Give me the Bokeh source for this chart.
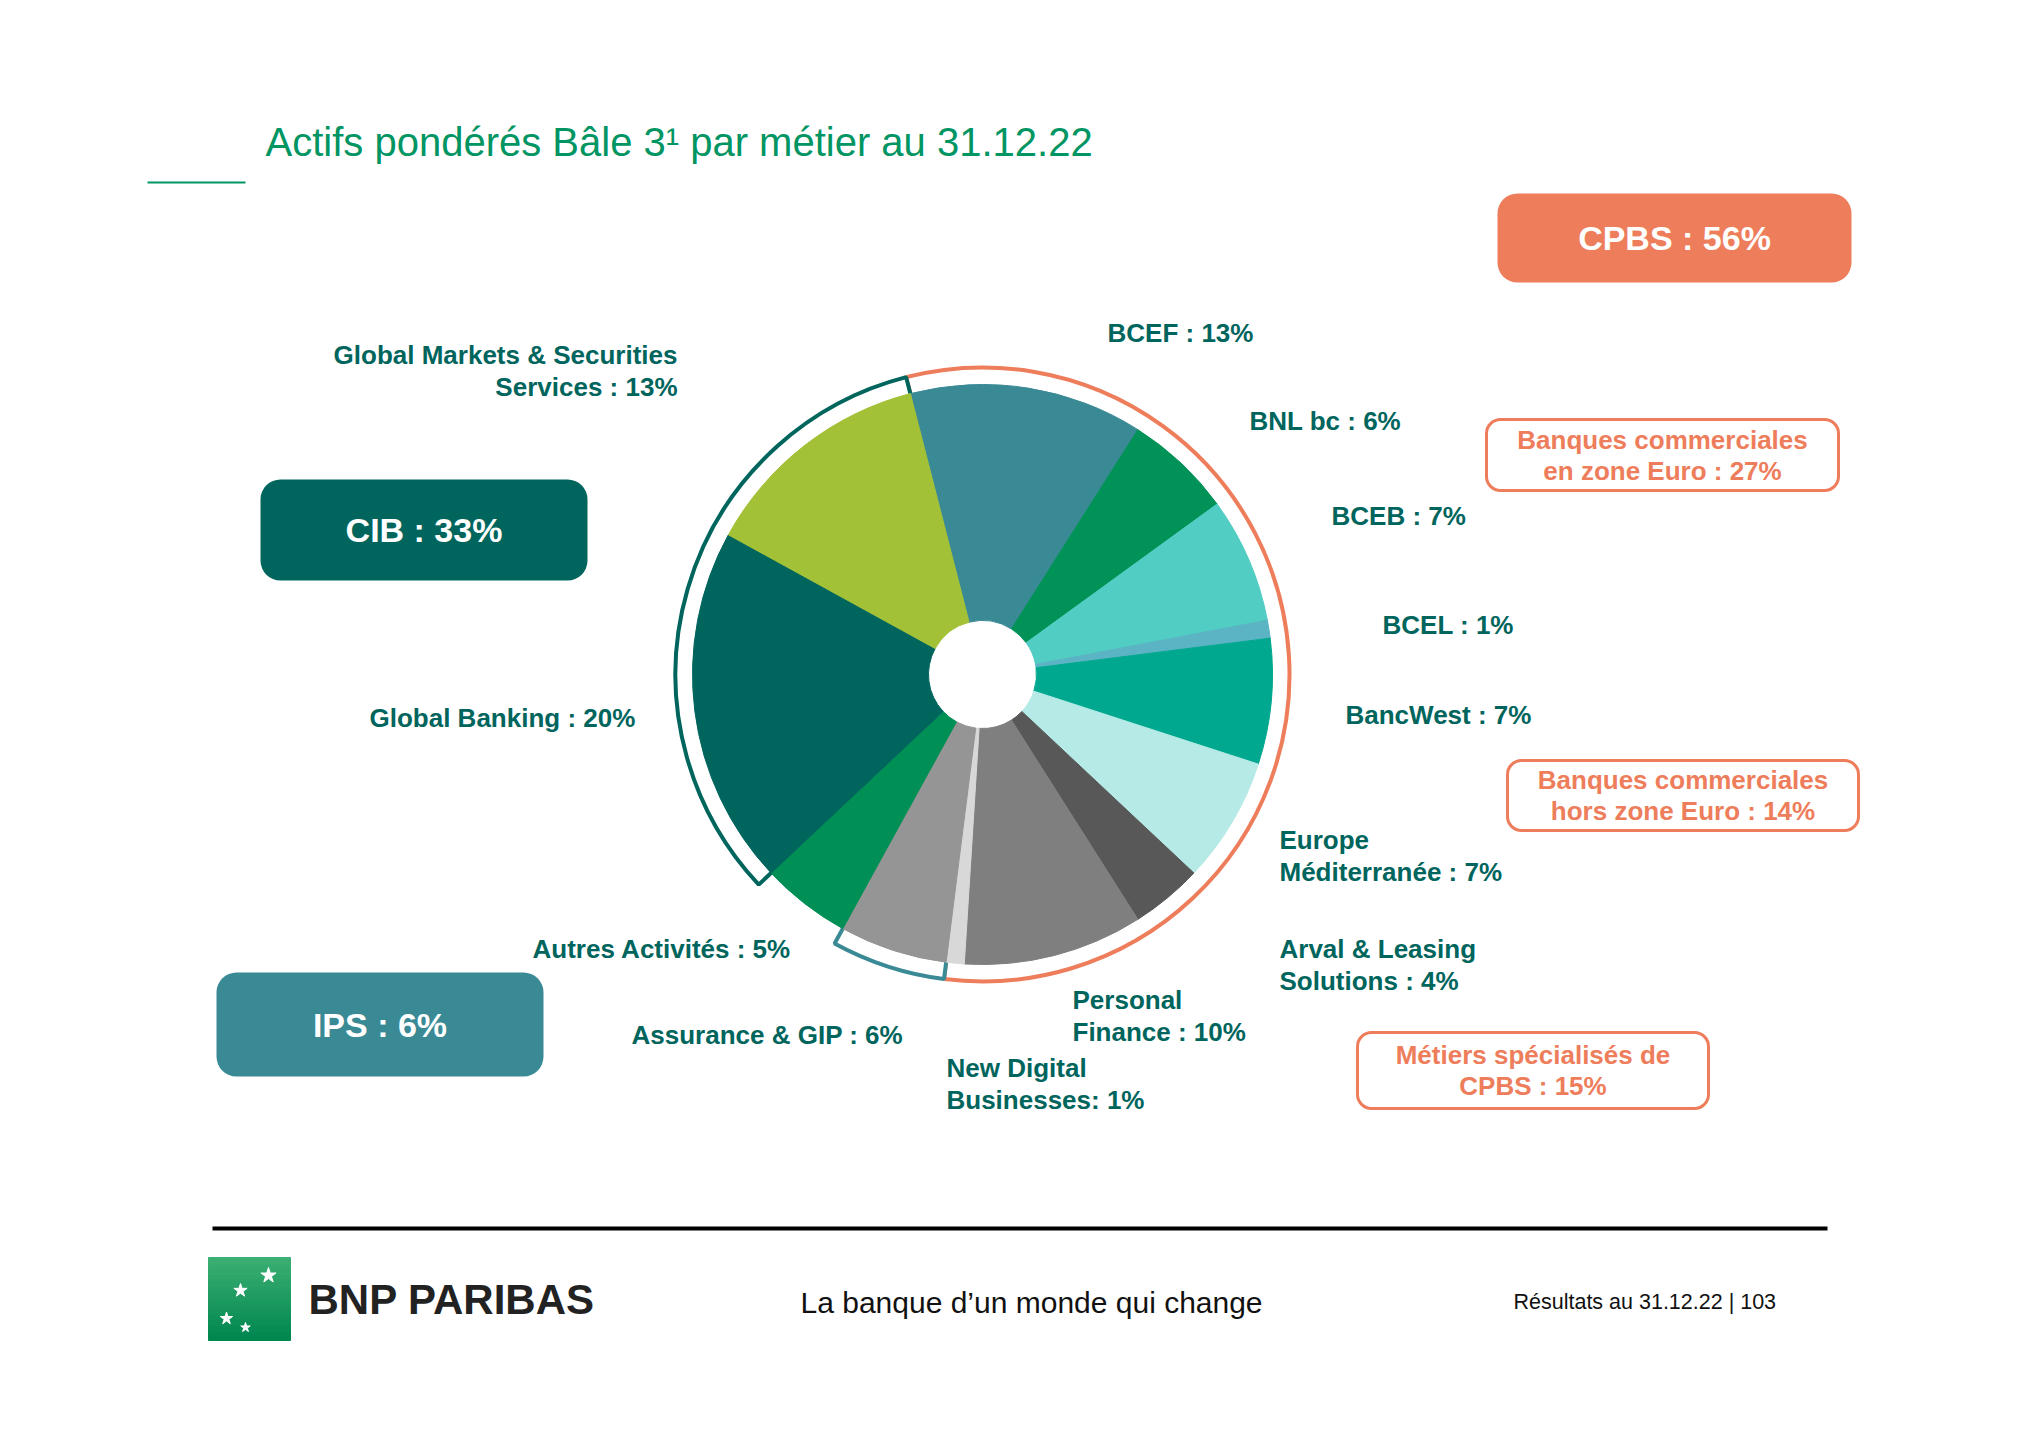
import numpy as np
from bokeh.plotting import figure
from bokeh.models import Range1d, ColumnDataSource, BoxAnnotation
from bokeh.core.properties import value
from bokeh.embed import file_html
from bokeh.resources import INLINE

# ---------------- data ----------------
segments = ["BCEF", "BNL bc", "BCEB", "BCEL", "BancWest", "Europe Méditerranée",
            "Arval & Leasing Solutions", "Personal Finance", "New Digital Businesses",
            "Assurance & GIP", "Autres Activités", "Global Banking",
            "Global Markets & Securities Services"]
shares = [13, 6, 7, 1, 7, 7, 4, 10, 1, 6, 5, 20, 13]
colors = ["#3A8A96", "#009257", "#52CDC3", "#5AB4C4", "#00A88F", "#B5EAE6",
          "#585858", "#7F7F7F", "#D8D8D8", "#959595", "#008F55", "#00655D", "#A3C137"]
label_lines = [["BCEF : 13%"], ["BNL bc : 6%"], ["BCEB : 7%"], ["BCEL : 1%"],
               ["BancWest : 7%"], ["Europe", "Méditerranée : 7%"],
               ["Arval & Leasing", "Solutions : 4%"], ["Personal", "Finance : 10%"],
               ["New Digital", "Businesses: 1%"], ["Assurance & GIP : 6%"],
               ["Autres Activités : 5%"], ["Global Banking : 20%"],
               ["Global Markets & Securities", "Services : 13%"]]

groups = ["CPBS", "IPS", "CIB"]
group_values = [56, 6, 33]
group_first = [0, 9, 11]
group_last = [8, 9, 12]
group_colors = ["#EE7D5B", "#3A8A96", "#00655D"]

sub_groups = ["Banques commerciales|en zone Euro : 27%",
              "Banques commerciales|hors zone Euro : 14%",
              "Métiers spécialisés de|CPBS : 15%"]

title = "Actifs pondérés Bâle 3¹ par métier au 31.12.22"

# ---------------- page ----------------
W, H = 2040, 1442
def Y(y):
    return H - y

p = figure(width=W, height=H, x_range=Range1d(0, W), y_range=Range1d(0, H),
           output_backend="svg", toolbar_location=None, x_axis_type=None,
           y_axis_type=None, min_border=0, outline_line_color=None,
           background_fill_color="white", border_fill_color="white")
p.grid.visible = False

FONT = value("Liberation Sans")
TEAL = "#00655D"
ORANGE = "#EE7D5B"

# ---------------- group boxes (underlay) ----------------
gbox = [(1497, 1851, 193, 282), (216, 543, 972, 1076), (260, 587, 479, 580)]
for (l, r, t, b), c in zip(gbox, group_colors):
    p.add_layout(BoxAnnotation(left=l, right=r, top=Y(t), bottom=Y(b),
                               fill_color=c, fill_alpha=1, line_color=None,
                               border_radius=20, level="underlay"))

sbox = [(1486, 1838, 419, 490), (1507, 1858, 760, 830), (1357, 1708, 1032, 1108)]
for (l, r, t, b) in sbox:
    p.add_layout(BoxAnnotation(left=l, right=r, top=Y(t), bottom=Y(b),
                               fill_alpha=0, line_color=ORANGE, line_alpha=1,
                               line_width=3, border_radius=14, level="underlay"))

# ---------------- pie ----------------
cx, cy = 982, Y(674)
R, r0, RB = 290, 54, 307
frac = np.array(shares, dtype=float) / sum(shares)
cum = np.concatenate([[0.0], np.cumsum(frac)])
theta0 = np.deg2rad(-14.4)
th = theta0 + cum * 2 * np.pi          # clockwise from 12 o'clock
starts = np.pi / 2 - th[:-1]
ends = np.pi / 2 - th[1:]

# group brackets (drawn first, pie covers their inner part)
gs = [starts[i] for i in group_first]
ge = [ends[i] for i in group_last]
p.annular_wedge(x=cx, y=cy, inner_radius=R - 30, outer_radius=RB,
                start_angle=gs, end_angle=ge, direction="clock",
                fill_color="white", line_color=group_colors, line_width=4)

src = ColumnDataSource(dict(start=starts, end=ends, color=colors, name=segments))
p.annular_wedge(x=cx, y=cy, inner_radius=r0, outer_radius=R,
                start_angle="start", end_angle="end", direction="clock",
                fill_color="color", line_color="color", line_width=1, source=src)

# ---------------- segment labels ----------------
lab_pos = [(1107, 332, "left"), (1249, 420, "left"), (1331, 515, "left"),
           (1382, 624, "left"), (1345, 714, "left"), (1279, 839, "left"),
           (1279, 948, "left"), (1072, 999, "left"), (946, 1067, "left"),
           (631, 1034, "left"), (532, 948, "left"), (369, 717, "left"),
           (677, 354, "right")]
LS = 32
for i, lines in enumerate(label_lines):
    x0, y0, al = lab_pos[i]
    xs = [x0] * len(lines)
    ys = [Y(y0 + k * LS) for k in range(len(lines))]
    p.text(x=xs, y=ys, text=lines, text_font=FONT, text_font_style="bold",
           text_font_size="26px", text_color=TEAL, text_align=al,
           text_baseline="middle")

# ---------------- group box texts ----------------
for (l, r, t, b), g, v in zip(gbox, groups, group_values):
    p.text(x=[(l + r) / 2], y=[Y((t + b) / 2)], text=[f"{g} : {v}%"],
           text_font=FONT, text_font_style="bold", text_font_size="34px",
           text_color="white", text_align="center", text_baseline="middle")

for (l, r, t, b), s in zip(sbox, sub_groups):
    lines = s.split("|")
    mid = (t + b) / 2
    ys = [Y(mid - 15.5), Y(mid + 15.5)]
    p.text(x=[(l + r) / 2] * 2, y=ys, text=lines, text_font=FONT,
           text_font_style="bold", text_font_size="26px", text_color=ORANGE,
           text_align="center", text_baseline="middle")

# ---------------- title ----------------
p.text(x=[265], y=[Y(141)], text=[title], text_font=FONT,
       text_font_size="40px", text_color="#009562", text_align="left",
       text_baseline="middle")
p.segment(x0=147, y0=Y(182), x1=245, y1=Y(182), line_color="#009562", line_width=2)

# ---------------- footer ----------------
p.segment(x0=212, y0=Y(1228), x1=1827, y1=Y(1228), line_color="black", line_width=4)
n = 24
edges = np.linspace(1257, 1340, n + 1)
shade = [f"#{int(60 - 60 * t):02x}{int(175 - 40 * t):02x}{int(115 - 35 * t):02x}"
         for t in np.linspace(0, 1, n)]
p.quad(left=208, right=290, top=[Y(e) for e in edges[:-1]],
       bottom=[Y(e) for e in edges[1:]], fill_color=shade, line_color=shade)
p.scatter(x=[268, 240, 226, 245], y=[Y(1275), Y(1290), Y(1318), Y(1327)],
          marker="star", size=[16, 14, 13, 10], fill_color="white", line_color="white")
p.text(x=[308], y=[Y(1299)], text=["BNP PARIBAS"], text_font=FONT,
       text_font_style="bold", text_font_size="42px", text_color="#222222",
       text_align="left", text_baseline="middle")
p.text(x=[800], y=[Y(1302)], text=["La banque d’un monde qui change"],
       text_font=FONT, text_font_size="30px", text_color="#111111",
       text_align="left", text_baseline="middle")
p.text(x=[1513], y=[Y(1301)], text=["Résultats au 31.12.22 | 103"],
       text_font=FONT, text_font_size="21.5px",
       text_color="#111111", text_align="left", text_baseline="middle")

open("out.html", "w").write(file_html(p, INLINE))
